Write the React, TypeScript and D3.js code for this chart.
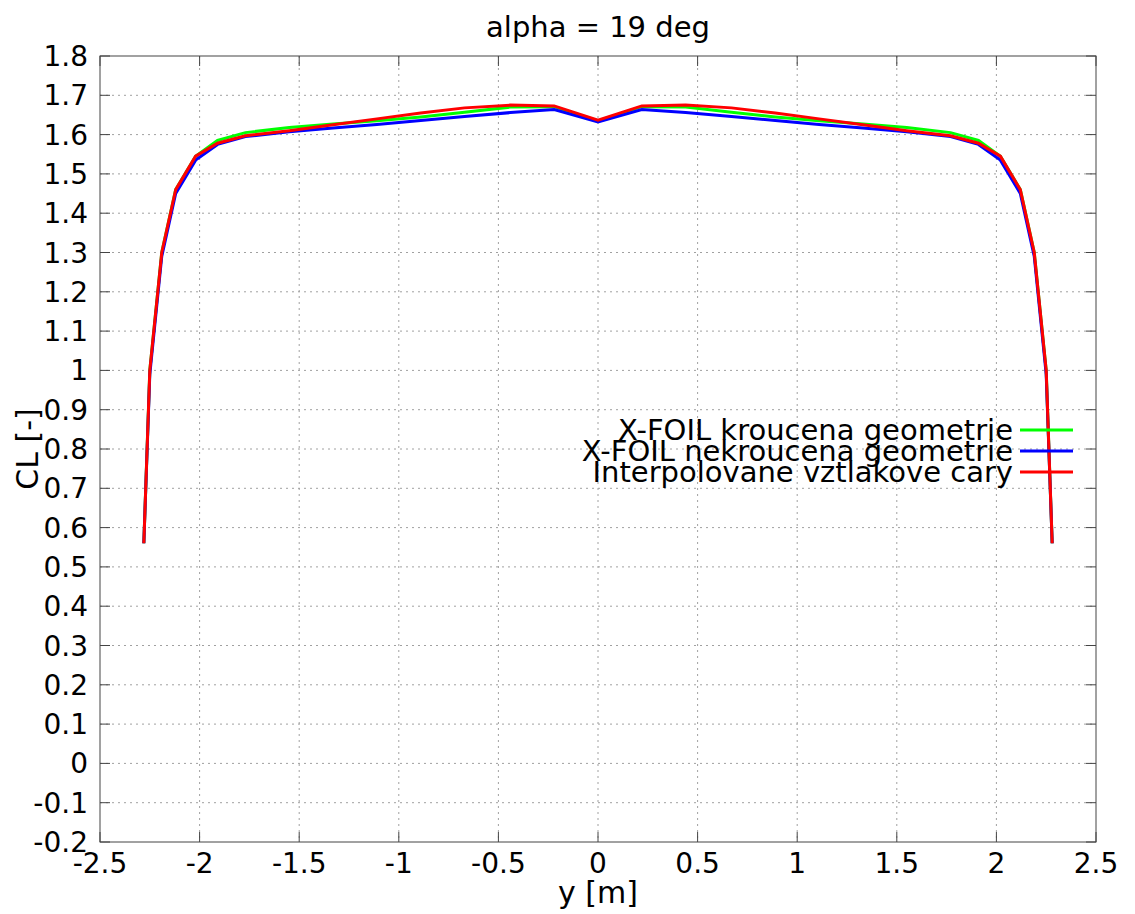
import React from "react";
import * as d3 from "d3";

const yPos = [-2.28, -2.25, -2.19, -2.12, -2.02, -1.91, -1.77, -1.55, -1.33, -1.11, -0.89, -0.67, -0.44, -0.22, 0, 0.22, 0.44, 0.67, 0.89, 1.11, 1.33, 1.55, 1.77, 1.91, 2.02, 2.12, 2.19, 2.25, 2.28];
const clTwisted = [0.56, 1.0, 1.3, 1.46, 1.545, 1.585, 1.605, 1.618, 1.627, 1.635, 1.645, 1.657, 1.67, 1.671, 1.635, 1.671, 1.67, 1.657, 1.645, 1.635, 1.627, 1.618, 1.605, 1.585, 1.545, 1.46, 1.3, 1.0, 0.56];
const clUntwisted = [0.56, 0.99, 1.29, 1.45, 1.535, 1.575, 1.595, 1.607, 1.617, 1.626, 1.636, 1.646, 1.656, 1.664, 1.632, 1.664, 1.656, 1.646, 1.636, 1.626, 1.617, 1.607, 1.595, 1.575, 1.535, 1.45, 1.29, 0.99, 0.56];
const clInterp = [0.56, 1.0, 1.3, 1.46, 1.545, 1.578, 1.597, 1.61, 1.625, 1.64, 1.655, 1.668, 1.675, 1.673, 1.637, 1.673, 1.675, 1.668, 1.655, 1.64, 1.625, 1.61, 1.597, 1.578, 1.545, 1.46, 1.3, 1.0, 0.56];

const seriesNames = ["X-FOIL kroucena geometrie", "X-FOIL nekroucena geometrie", "Interpolovane vztlakove cary"];
const seriesColors = ["#00ff00", "#0000ff", "#ff0000"];
const xTicks = [-2.5, -2, -1.5, -1, -0.5, 0, 0.5, 1, 1.5, 2, 2.5];
const yTicks = [-0.2, -0.1, 0, 0.1, 0.2, 0.3, 0.4, 0.5, 0.6, 0.7, 0.8, 0.9, 1, 1.1, 1.2, 1.3, 1.4, 1.5, 1.6, 1.7, 1.8];

const W = 1135, H = 914;
const L = 100, R = 1096, T = 56, B = 842;
const FONT = "'DejaVu Sans', sans-serif";

export default function App() {
  const x = d3.scaleLinear().domain([-2.5, 2.5]).range([L, R]);
  const y = d3.scaleLinear().domain([-0.2, 1.8]).range([B, T]);
  const line = d3.line<[number, number]>().x(d => x(d[0])).y(d => y(d[1]));
  const series = [clTwisted, clUntwisted, clInterp];
  const fmt = (v: number) => String(Math.round(v * 10) / 10);

  return (
    <svg width={W} height={H} style={{ position: "absolute", left: 0, top: 0, background: "#fff" }} fontFamily={FONT}>
      <rect x={0} y={0} width={W} height={H} fill="#fff" />
      {/* grid */}
      {xTicks.slice(1, -1).map(t => (
        <line key={"gx" + t} x1={x(t)} x2={x(t)} y1={T} y2={B} stroke="#a0a0a0" strokeWidth={1} strokeDasharray="2,4" />
      ))}
      {yTicks.slice(1, -1).map(t => (
        <line key={"gy" + t} x1={L} x2={R} y1={y(t)} y2={y(t)} stroke="#a0a0a0" strokeWidth={1} strokeDasharray="2,4" />
      ))}
      {/* ticks */}
      {xTicks.map(t => (
        <g key={"tx" + t}>
          <line x1={x(t)} x2={x(t)} y1={B} y2={B - 10} stroke="#444" />
          <line x1={x(t)} x2={x(t)} y1={T} y2={T + 10} stroke="#444" />
          <text x={x(t)} y={B + 31} textAnchor="middle" fontSize={28} fill="#000">{fmt(t)}</text>
        </g>
      ))}
      {yTicks.map(t => (
        <g key={"ty" + t}>
          <line x1={L} x2={L + 10} y1={y(t)} y2={y(t)} stroke="#444" />
          <line x1={R} x2={R - 10} y1={y(t)} y2={y(t)} stroke="#444" />
          <text x={88} y={y(t) + 10} textAnchor="end" fontSize={28} fill="#000">{fmt(t)}</text>
        </g>
      ))}
      <rect x={L} y={T} width={R - L} height={B - T} fill="none" stroke="#444" strokeWidth={1} />
      {/* lines */}
      {series.map((s, i) => (
        <path key={"s" + i} d={line(yPos.map((v, j) => [v, s[j]] as [number, number])) || ""} fill="none" stroke={seriesColors[i]} strokeWidth={3} strokeLinejoin="miter" />
      ))}
      {/* legend */}
      {seriesNames.map((n, i) => (
        <g key={"lg" + i}>
          <text x={1013} y={430 + i * 21 + 10} textAnchor="end" fontSize={29} fill="#000">{n}</text>
          <line x1={1020} x2={1073} y1={430 + i * 21} y2={430 + i * 21} stroke={seriesColors[i]} strokeWidth={3} />
        </g>
      ))}
      {/* titles */}
      <text x={598} y={37} textAnchor="middle" fontSize={29} fill="#000">alpha = 19 deg</text>
      <text x={598} y={903} textAnchor="middle" fontSize={30} fill="#000">y [m]</text>
      <text transform={`translate(38, ${(T + B) / 2}) rotate(-90)`} textAnchor="middle" fontSize={30} fill="#000">CL [-]</text>
    </svg>
  );
}
